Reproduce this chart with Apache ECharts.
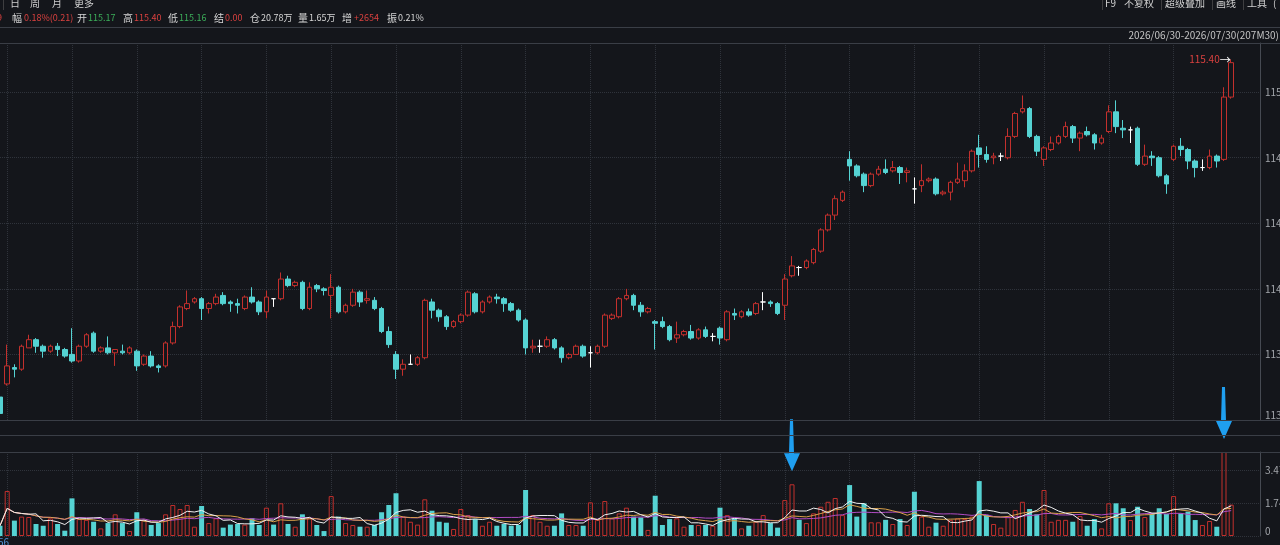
<!DOCTYPE html>
<html><head><meta charset="utf-8">
<script src="https://cdn.jsdelivr.net/npm/echarts@6/dist/echarts.min.js"></script>
<style>html,body{margin:0;padding:0;background:#14161b;overflow:hidden}#c{width:1280px;height:545px}</style>
</head><body><div id="c"></div>
<script>
// [open, close, low, high] per 30-minute bar
const ohlc = [
[113.34,113.24,113.23,113.35],[113.42,113.53,113.41,113.66],[113.52,113.51,113.46,113.54],[113.51,113.65,113.50,113.66],
[113.64,113.69,113.64,113.72],[113.69,113.65,113.61,113.70],[113.65,113.62,113.58,113.66],[113.62,113.65,113.61,113.66],
[113.65,113.63,113.59,113.67],[113.63,113.59,113.58,113.64],[113.60,113.56,113.55,113.76],[113.56,113.65,113.55,113.66],
[113.65,113.72,113.64,113.73],[113.73,113.62,113.61,113.74],[113.62,113.64,113.61,113.65],[113.64,113.61,113.60,113.71],
[113.61,113.63,113.53,113.63],[113.62,113.61,113.60,113.66],[113.61,113.64,113.60,113.65],[113.62,113.53,113.50,113.63],
[113.54,113.59,113.53,113.60],[113.59,113.53,113.52,113.62],[113.53,113.52,113.49,113.54],[113.53,113.67,113.52,113.68],
[113.67,113.77,113.66,113.80],[113.77,113.89,113.76,113.90],[113.88,113.91,113.87,113.99],[113.92,113.94,113.91,113.95],
[113.94,113.88,113.81,113.95],[113.88,113.91,113.85,113.92],[113.91,113.95,113.90,113.97],[113.96,113.91,113.90,113.98],
[113.92,113.91,113.86,113.93],[113.91,113.90,113.85,113.94],[113.88,113.95,113.87,113.96],[113.95,113.92,113.91,114.01],
[113.92,113.86,113.84,113.93],[113.86,113.95,113.82,113.99],[113.94,113.94,113.89,113.94],[113.94,114.06,113.93,114.10],
[114.06,114.02,114.01,114.08],[114.02,114.04,114.01,114.05],[114.04,113.88,113.87,114.05],[113.88,114.01,113.87,114.04],
[114.02,114.00,113.98,114.03],[114.00,113.99,113.96,114.01],[113.96,114.01,113.82,114.09],[114.01,113.86,113.85,114.02],
[113.86,113.90,113.85,113.91],[113.90,113.98,113.89,114.00],[113.98,113.92,113.89,113.99],[113.93,113.94,113.91,113.99],
[113.93,113.88,113.87,113.95],[113.88,113.74,113.73,113.89],[113.74,113.66,113.64,113.77],[113.60,113.51,113.45,113.62],
[113.51,113.54,113.47,113.57],[113.54,113.54,113.54,113.60],[113.54,113.58,113.53,113.59],[113.58,113.93,113.57,113.94],
[113.92,113.87,113.82,113.94],[113.87,113.83,113.80,113.88],[113.83,113.77,113.75,113.84],[113.77,113.80,113.76,113.81],
[113.80,113.84,113.79,113.85],[113.84,113.98,113.83,113.99],[113.97,113.86,113.85,113.98],[113.86,113.92,113.85,113.93],
[113.92,113.95,113.91,113.96],[113.95,113.94,113.91,113.97],[113.94,113.91,113.86,113.95],[113.91,113.87,113.86,113.92],
[113.87,113.81,113.80,113.88],[113.81,113.64,113.60,113.82],[113.64,113.65,113.61,113.69],[113.65,113.65,113.61,113.69],
[113.65,113.69,113.64,113.71],[113.69,113.64,113.63,113.70],[113.64,113.58,113.55,113.65],[113.58,113.60,113.57,113.61],
[113.60,113.65,113.60,113.66],[113.65,113.59,113.58,113.66],[113.61,113.61,113.52,113.65],[113.61,113.65,113.60,113.66],
[113.65,113.84,113.64,113.85],[113.82,113.84,113.81,113.85],[113.83,113.94,113.82,113.95],[113.94,113.96,113.93,114.00],
[113.96,113.90,113.87,113.97],[113.90,113.86,113.83,113.92],[113.86,113.88,113.85,113.89],[113.80,113.79,113.63,113.81],
[113.80,113.77,113.76,113.83],[113.77,113.69,113.68,113.78],[113.70,113.72,113.67,113.80],[113.72,113.74,113.71,113.75],
[113.74,113.70,113.69,113.78],[113.70,113.75,113.69,113.76],[113.75,113.71,113.70,113.77],[113.71,113.71,113.68,113.73],
[113.76,113.70,113.66,113.77],[113.69,113.86,113.68,113.87],[113.85,113.84,113.81,113.88],[113.83,113.86,113.82,113.87],
[113.86,113.84,113.83,113.88],[113.85,113.91,113.84,113.92],[113.92,113.92,113.87,113.98],[113.92,113.91,113.89,113.93],
[113.91,113.85,113.84,113.92],[113.90,114.06,113.81,114.09],[114.08,114.14,114.07,114.20],[114.13,114.13,114.08,114.14],
[114.13,114.17,114.12,114.18],[114.16,114.24,114.15,114.25],[114.23,114.36,114.22,114.37],[114.36,114.45,114.35,114.46],
[114.45,114.55,114.42,114.57],[114.54,114.59,114.53,114.60],[114.79,114.75,114.66,114.84],[114.75,114.69,114.68,114.76],
[114.70,114.63,114.59,114.71],[114.63,114.70,114.62,114.71],[114.70,114.73,114.69,114.75],[114.73,114.71,114.70,114.79],
[114.72,114.74,114.71,114.78],[114.74,114.71,114.64,114.75],[114.71,114.72,114.65,114.74],[114.61,114.61,114.52,114.68],
[114.63,114.66,114.59,114.76],[114.66,114.67,114.65,114.68],[114.67,114.58,114.57,114.68],[114.58,114.59,114.57,114.60],
[114.59,114.65,114.54,114.66],[114.65,114.67,114.64,114.77],[114.66,114.72,114.62,114.76],[114.72,114.84,114.71,114.85],
[114.86,114.82,114.74,114.94],[114.82,114.79,114.77,114.87],[114.80,114.81,114.76,114.83],[114.81,114.81,114.78,114.83],
[114.80,114.93,114.79,114.98],[114.93,115.07,114.92,115.08],[115.08,115.10,115.07,115.18],[115.10,114.93,114.92,115.11],
[114.93,114.84,114.81,114.94],[114.79,114.86,114.75,114.87],[114.85,114.89,114.84,114.93],[114.89,114.93,114.88,114.94],
[114.93,114.99,114.92,115.02],[114.99,114.92,114.89,115.00],[114.92,114.95,114.84,114.96],[114.96,114.94,114.93,114.99],
[114.94,114.89,114.85,114.95],[114.89,114.92,114.88,114.94],[114.96,115.08,114.95,115.12],[115.08,114.99,114.95,115.15],
[114.98,114.97,114.92,115.03],[114.97,114.97,114.89,114.99],[114.98,114.76,114.75,114.99],[114.76,114.81,114.75,114.88],
[114.81,114.80,114.75,114.84],[114.80,114.69,114.68,114.81],[114.69,114.64,114.58,114.70],[114.79,114.87,114.78,114.88],
[114.87,114.85,114.81,114.92],[114.85,114.78,114.73,114.86],[114.78,114.74,114.68,114.79],[114.74,114.74,114.72,114.79],
[114.74,114.81,114.73,114.85],[114.81,114.78,114.74,114.82],[114.79,115.17,114.78,115.23],[115.17,115.38,115.16,115.40]
];
// volume, 万手
const volume = [
0.54,2.37,0.81,1.02,1.00,0.63,0.54,0.93,0.63,0.28,1.98,0.89,0.85,0.75,0.40,0.68,1.14,0.68,0.26,1.25,
0.85,0.58,0.68,1.14,1.63,1.42,1.63,0.49,1.58,0.68,0.93,0.44,0.60,0.63,0.60,0.93,0.58,1.49,0.60,1.72,
0.63,0.49,1.14,0.93,0.58,0.26,2.10,1.02,0.68,0.58,0.49,0.49,0.58,1.25,1.63,2.25,1.02,0.75,0.60,1.93,
1.33,0.75,0.70,0.37,1.42,1.10,0.89,0.54,0.75,0.54,0.63,0.54,0.58,2.42,1.10,0.75,0.54,0.54,1.19,0.58,
0.58,0.54,1.77,0.85,1.84,0.93,1.19,1.49,1.02,0.98,0.32,2.12,0.58,0.89,0.93,0.49,0.58,0.58,0.58,0.54,
1.49,1.10,0.93,0.40,0.54,0.75,1.10,0.68,0.44,1.89,2.72,0.85,0.68,1.19,1.54,1.80,2.00,1.10,2.68,1.02,
1.72,0.72,0.72,0.85,0.63,0.89,0.58,2.33,1.02,0.49,0.70,0.54,0.85,0.93,0.89,1.02,2.89,1.10,0.63,0.44,
1.02,1.37,1.80,1.42,1.14,2.42,0.75,0.85,0.85,0.75,1.05,0.54,0.89,0.40,1.72,1.72,1.46,0.84,1.54,1.00,
1.19,1.46,1.16,2.10,1.19,1.28,0.84,0.58,0.79,0.49,4.42,1.65
];
const padBars = 4;                    // empty slots to the right of the last bar
const priceMin = 113.2, priceMax = 115.5, priceStep = 0.4;
const volStep = 1.735;
const arrowAt = [110, 170];           // bars marked by the blue arrows
const header2 = [
  ['9','#d9413f',-3],['幅','#d6d6d6',12],['0.18%(0.21)','#d9413f',24],['开','#d6d6d6',77],['115.17','#3cae5a',88],
  ['高','#d6d6d6',123],['115.40','#d9413f',134],['低','#d6d6d6',168],['115.16','#3cae5a',179],['结','#d6d6d6',214],
  ['0.00','#d9413f',225],['仓','#d6d6d6',250],['20.78万','#d6d6d6',261],['量','#d6d6d6',298],['1.65万','#d6d6d6',309],
  ['增','#d6d6d6',342],['+2654','#d9413f',354],['振','#d6d6d6',387],['0.21%','#d6d6d6',398]
];
const header1L = [['|',2],['日',10],['周',30],['月',52],['更多',74]];
const header1R = [['|',1101],['F9',1105],['不复权',1124],['|',1160],['超级叠加',1165],['|',1211],['画线',1216],['|',1242],['工具',1247],['(',1273]];
const rangeText = '2026/06/30-2026/07/30(207M30)';

const RED = '#c3302d', CYAN = '#55d3d3', BG = '#14161b', GRID = '#2f333b';
const categories = ohlc.map((_, i) => String(i + 1)).concat(new Array(padBars).fill(''));
function dir(i){
  const o = ohlc[i][0], c = ohlc[i][1];
  if (c > o) return 1; if (c < o) return -1;
  return (i > 0 && c < ohlc[i-1][1]) ? -1 : 1;
}
const volData = volume.map((v, i) => ({
  value: v,
  itemStyle: dir(i) > 0 ? {color: 'rgba(0,0,0,0)', borderColor: RED, borderWidth: 1} : {color: CYAN, borderColor: CYAN, borderWidth: 0}
}));
function ma(n){
  return volume.map((v, i) => {
    const s = volume.slice(Math.max(0, i - n + 1), i + 1);
    return +(s.reduce((a, b) => a + b, 0) / s.length).toFixed(3);
  });
}
const splitIdx = (i) => i >= 1 && i <= 163 && (i - 1) % 9 === 0;
const font = '"Noto Sans CJK SC","Noto Sans",sans-serif';
const isCJK = (t) => /[\u4e00-\u9fff]/.test(t) && t.length <= 2 && !/\d/.test(t);

const graphics = [];
[27, 43, 420, 435, 452].forEach(y => graphics.push({type:'line', silent:true, z:50,
  shape:{x1:0, y1:y + 0.5, x2:1280, y2:y + 0.5}, style:{stroke:'#3a3e46', lineWidth:1}}));
header2.forEach(([t, c, x]) => graphics.push({type:'text', x:x, y:18, z:60,
  style:{text:t, fill:c, font:(isCJK(t) ? '10px ' : '9px ') + font, verticalAlign:'middle'}}));
header1L.forEach(([t, x]) => graphics.push({type:'text', x:x, y:3, z:60,
  style:{text:t, fill: t === '|' ? '#555' : '#cfcfcf', font:'10px ' + font, verticalAlign:'middle'}}));
header1R.forEach(([t, x]) => graphics.push({type:'text', x:x, y:3, z:60,
  style:{text:t, fill: t === '|' ? '#555' : '#cfcfcf', font:'10px ' + font, verticalAlign:'middle'}}));
graphics.push({type:'text', x:1279, y:35, z:60, style:{text:rangeText, fill:'#c4c4c4', font:'10px ' + font, align:'right', verticalAlign:'middle'}});
graphics.push({type:'text', x:-2, y:542, z:60, style:{text:'56', fill:'#4f8fd0', font:'10px ' + font, verticalAlign:'middle'}});

const chart = echarts.init(document.getElementById('c'), null, {renderer:'canvas'});
chart.setOption({
  backgroundColor: BG,
  animation: false,
  graphic: graphics,
  grid: [
    {left:0, right:20, top:43, height:377, containLabel:false, outerBoundsMode:'none'},
    {left:0, right:20, top:452, height:84, containLabel:false, outerBoundsMode:'none'}
  ],
  xAxis: [0, 1].map(g => ({
    type:'category', gridIndex:g, data:categories, boundaryGap:false,
    axisLine:{show:false}, axisTick:{show:false}, axisLabel:{show:false},
    splitLine:{show:true, interval:(i) => splitIdx(i), lineStyle:{color:GRID, type:'dotted', width:1}}
  })),
  yAxis: [
    {type:'value', gridIndex:0, position:'right', min:priceMin, max:priceMax, interval:priceStep, scale:true,
     axisLine:{show:true, lineStyle:{color:'#464a52'}}, axisTick:{show:false},
     axisLabel:{color:'#a3a6ab', fontSize:10, margin:5, fontFamily:font, showMaxLabel:false, verticalAlignMinLabel:'bottom',
       formatter:(v) => v.toFixed(2)},
     splitLine:{show:true, lineStyle:{color:GRID, type:'dotted'}}},
    {type:'value', gridIndex:1, position:'right', min:0, max:'dataMax', interval:volStep,
     axisLine:{show:true, lineStyle:{color:'#464a52'}}, axisTick:{show:false},
     axisLabel:{color:'#a3a6ab', fontSize:10, margin:5, fontFamily:font, showMaxLabel:false, verticalAlignMinLabel:'bottom',
       formatter:(v) => v === 0 ? '0' : v.toFixed(2)},
     splitLine:{show:true, lineStyle:{color:GRID, type:'dotted'}}}
  ],
  series: [
    {type:'candlestick', xAxisIndex:0, yAxisIndex:0, data:ohlc, barWidth:5,
     itemStyle:{color:BG, color0:CYAN, borderColor:RED, borderColor0:CYAN, borderColorDoji:'#ffffff', borderWidth:1},
     markPoint:{symbol:'circle', symbolSize:1, itemStyle:{color:'rgba(0,0,0,0)'},
       label:{show:true, position:'left', distance:0,
         formatter:(p) => '{p|' + p.value.toFixed(2) + '}{a|→}',
         rich:{p:{color:'#d9413f', fontSize:10, fontFamily:font}, a:{color:'#ffffff', fontSize:11, fontFamily:font}}},
       data:[{type:'max', valueDim:'highest'}]}},
    {type:'bar', xAxisIndex:1, yAxisIndex:1, data:volData, barWidth:5,
     markPoint:{symbol:'path://M6,0 L9,0 L10,34 L16,34 L8,52 L0,34 L5,34 Z', symbolSize:[16, 52], symbolOffset:[0, -39],
       itemStyle:{color:'#1f9ff0'}, label:{show:false},
       data: arrowAt.map(i => ({coord:[i, volume[i]]}))}},
    {type:'line', xAxisIndex:1, yAxisIndex:1, data:ma(5), symbol:'none', lineStyle:{color:'#f0f0f0', width:1}, z:5},
    {type:'line', xAxisIndex:1, yAxisIndex:1, data:ma(10), symbol:'none', lineStyle:{color:'#d9a04a', width:1}, z:4},
    {type:'line', xAxisIndex:1, yAxisIndex:1, data:ma(20), symbol:'none', lineStyle:{color:'#b24cc4', width:1}, z:3}
  ]
});
</script></body></html>
